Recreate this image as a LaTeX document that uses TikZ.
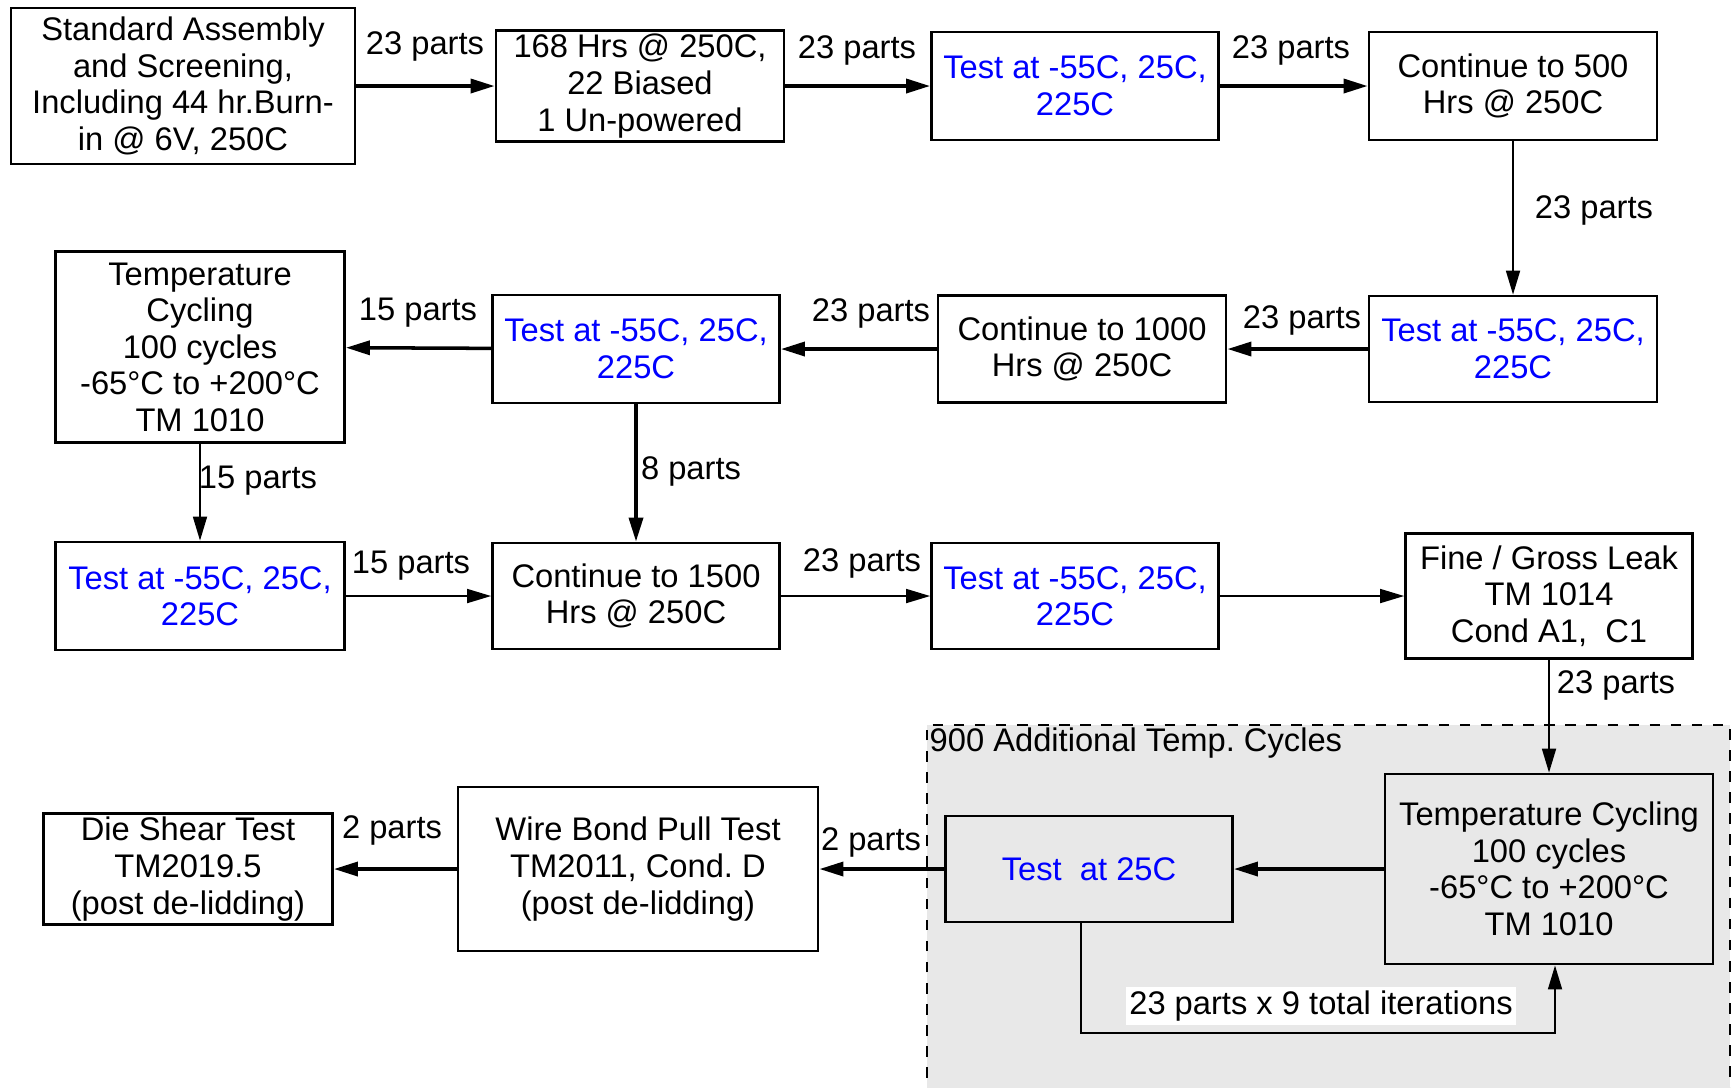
\documentclass[tikz,border=0pt]{standalone}
\usepackage{fontspec}
\setmainfont{Liberation Sans}
\usetikzlibrary{arrows.meta,backgrounds}
\definecolor{testblue}{RGB}{0,0,255}
\definecolor{cycgray}{RGB}{232,232,232}
\newcommand{\flowfont}{\fontsize{9.3}{10.4}\selectfont}
\tikzset{
  blk/.style   = {draw, line width=0.8pt, align=center, font=\flowfont,
                  inner sep=1pt, fill=white},
  tst/.style   = {blk, text=testblue},
  sz/.style 2 args = {minimum width=#1cm, minimum height=#2cm},
  ar/.style    = {-{Triangle[length=2.4mm,width=1.4mm]}, line width=1pt},
  arl/.style   = {ar, line width=0.5pt},
  lbl/.style   = {font=\flowfont, inner sep=1pt},
  region/.style= {draw, dashed, line width=0.5pt, fill=cycgray},
}

\begin{document}
\begin{tikzpicture}
\useasboundingbox (0,0) rectangle (17.33,-10.87);

% --- repeated temperature cycling (shaded) ---
\draw[region] (9.27,-11.2) rectangle (17.30,-7.25);
\node[lbl, anchor=west, inner sep=0pt] (reglbl) at (9.29,-7.43)
     {900 Additional Temp.\ Cycles};

% --- first row ---
\node[blk, sz={3.44}{1.56}] (assy) at (1.83,-0.86)
     {Standard Assembly\\and Screening,\\Including 44 hr.Burn-\\in @ 6V, 250C};
\node[blk, sz={2.88}{1.07}] (burn) at (6.40,-0.86)
     {168 Hrs @ 250C,\\22 Biased\\1 Un-powered};
\node[tst, sz={2.87}{1.08}] (testA) at (10.75,-0.86)
     {Test at -55C, 25C,\\225C};
\node[blk, sz={2.88}{1.08}] (hrsA) at (15.13,-0.86)
     {Continue to 500\\Hrs @ 250C};

% --- second row ---
\node[tst, sz={2.88}{1.06}] (testB) at (15.13,-3.49)
     {Test at -55C, 25C,\\225C};
\node[blk, sz={2.88}{1.07}] (hrsB) at (10.82,-3.49)
     {Continue to 1000\\Hrs @ 250C};
\node[tst, sz={2.87}{1.08}] (testC) at (6.36,-3.49)
     {Test at -55C, 25C,\\225C};
\node[blk, sz={2.89}{1.91}] (tcA) at (2.00,-3.47)
     {Temperature\\Cycling\\100 cycles\\-65°C to +200°C\\TM 1010};

% --- third row ---
\node[tst, sz={2.89}{1.08}] (testD) at (2.00,-5.96)
     {Test at -55C, 25C,\\225C};
\node[blk, sz={2.87}{1.06}] (hrsC) at (6.36,-5.96)
     {Continue to 1500\\Hrs @ 250C};
\node[tst, sz={2.87}{1.06}] (testE) at (10.75,-5.96)
     {Test at -55C, 25C,\\225C};
\node[blk, sz={2.87}{1.25}] (leak) at (15.49,-5.96)
     {Fine / Gross Leak\\TM 1014\\Cond A1,~ C1};

% --- fourth row ---
\node[blk, fill=cycgray, sz={3.28}{1.90}] (tcB) at (15.49,-8.69)
     {Temperature Cycling\\100 cycles\\-65°C to +200°C\\TM 1010};
\node[tst, fill=cycgray, sz={2.87}{1.06}] (test25) at (10.89,-8.69)
     {Test~ at 25C};
\node[blk, sz={3.60}{1.64}] (pull) at (6.38,-8.69)
     {Wire Bond Pull Test\\TM2011, Cond.\ D\\(post de-lidding)};
\node[blk, sz={2.89}{1.06}] (shear) at (1.88,-8.69)
     {Die Shear Test\\TM2019.5\\(post de-lidding)};

\coordinate (loopc) at (15.55,-10.33);

\draw[ar] (assy) -- (burn);
\draw[ar] (burn) -- (testA);
\draw[ar] (testA) -- (hrsA);
\draw[arl] (hrsA) -- (testB);
\draw[ar] (testB) -- (hrsB);
\draw[ar] (hrsB) -- (testC);
\draw[ar] (testC) -- (tcA);
\draw[arl] (tcA) -- (testD);
\draw[ar] (testC) -- (hrsC);
\draw[arl] (testD) -- (hrsC);
\draw[arl] (hrsC) -- (testE);
\draw[arl] (testE) -- (leak);
\draw[arl] (leak) -- (tcB);
\draw[ar] (tcB) -- (test25);
\draw[ar] (test25) -- (pull);
\draw[ar] (pull) -- (shear);
\draw[arl] ([xshift=-0.08cm]test25.south) |- (loopc) -- (loopc |- tcB.south);

\node[lbl] (n1) at (4.25,-0.46) {23 parts};
\node[lbl] (n2) at (8.57,-0.50) {23 parts};
\node[lbl] (n3) at (12.91,-0.50) {23 parts};
\node[lbl] (n4) at (15.94,-2.10) {23 parts};
\node[lbl] (n5) at (13.02,-3.20) {23 parts};
\node[lbl] (n6) at (8.71,-3.13) {23 parts};
\node[lbl] (n7) at (4.18,-3.13) {15 parts};
\node[lbl] (n8) at (2.58,-4.81) {15 parts};
\node[lbl] (n9) at (6.91,-4.71) {8 parts};
\node[lbl] (n10) at (4.11,-5.66) {15 parts};
\node[lbl] (n11) at (8.62,-5.63) {23 parts};
\node[lbl] (n12) at (16.16,-6.85) {23 parts};
\node[lbl] (n13) at (8.71,-8.42) {2 parts};
\node[lbl] (n14) at (3.92,-8.30) {2 parts};
\node[lbl, fill=white] (n15) at (13.21,-10.06) {23 parts x 9 total iterations};
\end{tikzpicture}
\end{document}
